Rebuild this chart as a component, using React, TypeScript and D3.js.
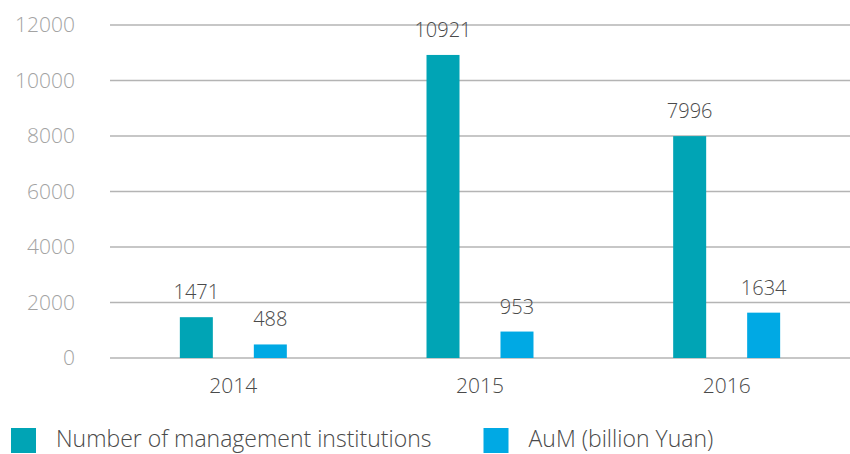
import * as d3 from "d3";

const years = ["2014", "2015", "2016"];
const series = ["Number of management institutions", "AuM (billion Yuan)"];
const institutions = [1471, 10921, 7996];
const aum = [488, 953, 1634];
const yTicks = [0, 2000, 4000, 6000, 8000, 10000, 12000];

const WIDTH = 850;
const HEIGHT = 454;
const MARGIN = { top: 25, right: 0, bottom: 96, left: 110 };
const COLORS = ["#00a4b5", "#00a9e4"];
const FONT = "'Open Sans', sans-serif";
const LEGEND_X = [11, 483.5];

export default function App() {
  const boundsWidth = WIDTH - MARGIN.left - MARGIN.right;
  const boundsHeight = HEIGHT - MARGIN.top - MARGIN.bottom;

  const x0 = d3.scaleBand().domain(years).range([0, boundsWidth]);
  const x1 = d3
    .scaleBand()
    .domain(series)
    .range([0, x0.bandwidth()])
    .paddingInner(0.554)
    .paddingOuter(0.944);
  const y = d3.scaleLinear().domain([0, 12000]).range([boundsHeight, 0]);

  const values = [institutions, aum];

  return (
    <svg
      width={WIDTH}
      height={HEIGHT}
      style={{ position: "absolute", left: 0, top: 0, fontFamily: FONT }}
    >
      <g transform={`translate(${MARGIN.left},${MARGIN.top})`}>
        {yTicks.map((t) => (
          <g key={t}>
            <line
              x1={0}
              x2={boundsWidth}
              y1={y(t)}
              y2={y(t)}
              stroke="#b4b4b4"
              strokeWidth={1.5}
            />
            <text
              x={-35}
              y={y(t)}
              dy="0.35em"
              textAnchor="end"
              fontSize={21}
              fontWeight={300}
              fill="#a3a3a3"
            >
              {t}
            </text>
          </g>
        ))}

        {years.map((yr, i) => (
          <g key={yr} transform={`translate(${x0(yr)},0)`}>
            {series.map((s, j) => {
              const v = values[j][i];
              const bx = x1(s) ?? 0;
              return (
                <g key={s}>
                  <rect
                    x={bx}
                    y={y(v)}
                    width={x1.bandwidth()}
                    height={boundsHeight - y(v)}
                    fill={COLORS[j]}
                  />
                  <text
                    x={bx + x1.bandwidth() / 2}
                    y={y(v) - 18}
                    textAnchor="middle"
                    fontSize={20}
                    fontWeight={300}
                    fill="#4a4a4a"
                  >
                    {v}
                  </text>
                </g>
              );
            })}
            <text
              x={x0.bandwidth() / 2}
              y={boundsHeight + 34.5}
              textAnchor="middle"
              fontSize={21}
              fontWeight={300}
              fill="#4a4a4a"
            >
              {yr}
            </text>
          </g>
        ))}
      </g>

      {series.map((s, j) => (
        <g key={s} transform={`translate(${LEGEND_X[j]},428)`}>
          <rect width={25} height={25} fill={COLORS[j]} />
          <text x={45} y={19} fontSize={23} fontWeight={300} fill="#4a4a4a">
            {s}
          </text>
        </g>
      ))}
    </svg>
  );
}
